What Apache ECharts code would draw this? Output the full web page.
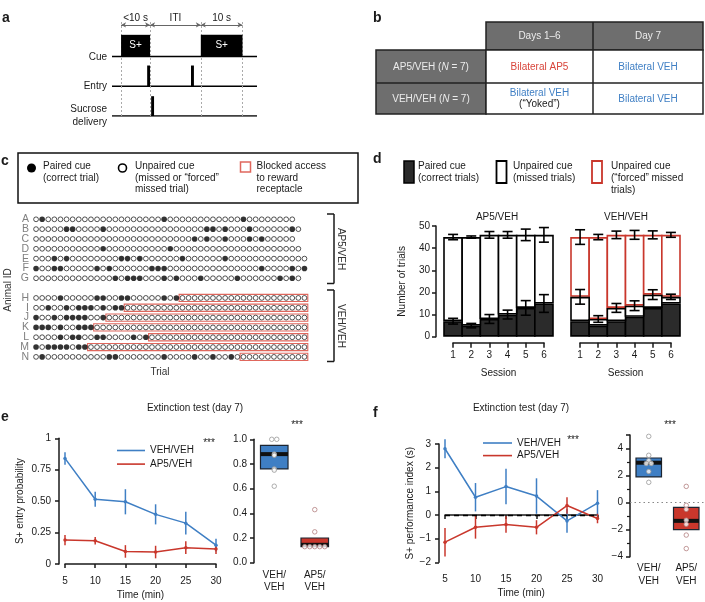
<!DOCTYPE html>
<html>
<head>
<meta charset="utf-8">
<script src="https://cdn.jsdelivr.net/npm/echarts@6.0.0/dist/echarts.min.js"></script>
<style>
  html, body { margin: 0; padding: 0; background: #fff; }
  #main { width: 705px; height: 602px; }
</style>
</head>
<body>
<div id="main"></div>
<script>
// ---- panel a: trial schematic (s) ----
var cueOn = [[0, 8], [22, 33.5]];
var entryOn = [[7.2, 8], [19.3, 20.1]];
var sucroseOn = [[8.3, 9.1]];
var epochEdges = [0, 8, 22, 33.5];
var epochNames = ['<10 s', 'ITI', '10 s'];

// ---- panel c: per-animal trial record ----
var animals = ['A', 'B', 'C', 'D', 'E', 'F', 'G', '', 'H', 'I', 'J', 'K', 'L', 'M', 'N'];
var trialCount = [43, 44, 43, 44, 45, 46, 44, 0, 45, 45, 45, 45, 45, 45, 45];
var pairedTrials = [
  [1, 21, 34],
  [5, 6, 11, 28, 29, 31, 35, 42],
  [26, 28, 31, 35, 37],
  [11, 22],
  [3, 5, 14, 15, 17, 24, 31],
  [0, 3, 4, 10, 12, 19, 20, 21, 37, 42, 44, 45],
  [13, 15, 16, 17, 21, 23, 27, 33, 40, 42],
  [],
  [4, 10, 11, 14, 15, 21, 23],
  [2, 5, 7, 8, 9, 11, 13, 14],
  [0, 3, 5, 6, 7, 8, 11],
  [0, 1, 2, 4, 7, 8, 9],
  [4, 6, 7, 10, 11, 16, 18],
  [0, 2, 3, 4, 5, 7, 8],
  [1, 12, 13, 21, 26, 29, 32]
];
var blockedFrom = [null, null, null, null, null, null, null, null, 24, 15, 12, 10, 19, 9, 34];

// ---- panel d: trials per session ----
var sessions = ['1', '2', '3', '4', '5', '6'];
var ap5Paired = [7, 5, 8, 10, 13, 15];
var ap5PairedErr = [1.3, 1, 2, 2, 3.3, 4];
var ap5Total = [45, 45, 46, 46, 46, 46];
var ap5TotalErr = [1.2, 0.5, 1.5, 1.5, 2.6, 3.3];
var vehPaired = [7, 5, 7, 9, 13, 15];
var vehMissedTop = [18, 8, 13, 14, 19, 18];
var vehMissedErr = [3.3, 1.5, 2, 2.2, 2.2, 1.2];
var vehTotal = [45, 45, 46, 46, 46, 46];
var vehTotalErr = [3.3, 1.2, 1.7, 2, 1.8, 1.1];

// ---- panel e: entry probability ----
var times = [5, 10, 15, 20, 25, 30];
var eVeh = [0.84, 0.515, 0.495, 0.395, 0.325, 0.15];
var eVehErr = [0.05, 0.06, 0.1, 0.08, 0.09, 0.05];
var eAp5 = [0.19, 0.185, 0.1, 0.095, 0.13, 0.12];
var eAp5Err = [0.04, 0.03, 0.05, 0.05, 0.05, 0.04];
var eBoxVeh = [0.76, 0.88, 0.95];
var eBoxAp5 = [0.13, 0.145, 0.2];
var ePtsVeh = [1.0, 1.0, 0.88, 0.87, 0.76, 0.75, 0.62];
var ePtsAp5 = [0.43, 0.25, 0.13, 0.13, 0.13, 0.13, 0.13];

// ---- panel f: performance index ----
var fVeh = [2.8, 0.75, 1.2, 0.8, -0.25, 0.5];
var fVehErr = [0.4, 0.6, 0.75, 0.75, 0.5, 0.55];
var fAp5 = [-1.15, -0.52, -0.4, -0.52, 0.4, -0.15];
var fAp5Err = [0.6, 0.48, 0.35, 0.3, 0.35, 0.2];
var fBoxVeh = [1.9, 2.95, 3.3];
var fBoxAp5 = [-2.0, -1.35, -0.35];
var fPtsVeh = [4.9, 3.5, 3.1, 2.9, 2.9, 2.3, 1.5];
var fPtsAp5 = [1.2, -0.2, -0.5, -1.3, -1.6, -2.4, -3.4];

var FONT = "'Liberation Sans', Arial, sans-serif";
var FS = 10;
var INK = '#1a1a1a';
var BLUE = '#3f7fc4';
var RED = '#c9372c';
var BLOCK = '#e0675d';

var chart = echarts.init(document.getElementById('main'));

function txt(x, y, s, o) {
  o = o || {};
  var align = o.align || 'left';
  return {
    type: 'text', x: x, y: y, rotation: o.rotation || 0, z: 50,
    style: {
      text: s, fill: o.color || INK, fontSize: o.size || FS, fontFamily: FONT,
      fontWeight: o.weight || 'normal', lineHeight: o.lh || 12,
      align: align, textAlign: align,
      verticalAlign: o.va || 'middle', textVerticalAlign: o.va || 'middle',
      rich: o.rich
    }
  };
}
function rect(x, y, w, h, fill, stroke, lw) {
  return { type: 'rect', shape: { x: x, y: y, width: w, height: h }, z: 40,
    style: { fill: fill, stroke: stroke, lineWidth: lw || 0 } };
}
function seg(x1, y1, x2, y2, color, lw) {
  return { type: 'line', shape: { x1: x1, y1: y1, x2: x2, y2: y2 }, z: 40,
    style: { stroke: color || INK, lineWidth: lw || 1.5 } };
}

// error bar renderer
function errBars(color, cap, lw) {
  return function (params, api) {
    var x = api.value(0);
    var a = api.coord([x, api.value(1)]);
    var b = api.coord([x, api.value(2)]);
    var st = { stroke: color, lineWidth: lw };
    var kids = [{ type: 'line', shape: { x1: a[0], y1: a[1], x2: b[0], y2: b[1] }, style: st }];
    if (cap) {
      kids.push({ type: 'line', shape: { x1: a[0] - cap, y1: a[1], x2: a[0] + cap, y2: a[1] }, style: st });
      kids.push({ type: 'line', shape: { x1: b[0] - cap, y1: b[1], x2: b[0] + cap, y2: b[1] }, style: st });
    }
    return { type: 'group', children: kids };
  };
}
function errData(xs, ys, es) {
  return ys.map(function (v, i) { return [xs[i], v - es[i], v + es[i]]; });
}

// box renderer (no whiskers, thick median band)
function renderBox(params, api) {
  var i = api.value(0);
  var bw = api.size([1, 0])[0] * 0.68;
  var hi = api.coord([i, api.value(3)]);
  var lo = api.coord([i, api.value(1)]);
  var md = api.coord([i, api.value(2)]);
  var fill = i === 0 ? BLUE : RED;
  return { type: 'group', children: [
    { type: 'rect', shape: { x: hi[0] - bw / 2, y: hi[1], width: bw, height: lo[1] - hi[1] },
      style: { fill: fill, stroke: '#1c2430', lineWidth: 1.2 } },
    { type: 'rect', shape: { x: hi[0] - bw / 2, y: md[1] - 2, width: bw, height: 4 },
      style: { fill: '#111' } }
  ] };
}
function boxPoints(group, vals, color) {
  return vals.map(function (v, k) {
    var same = vals.filter(function (w) { return w === v; }).length;
    var rank = vals.slice(0, k).filter(function (w) { return w === v; }).length;
    return { value: [group, v], symbolOffset: [(rank - (same - 1) / 2) * 5, 0],
      itemStyle: { color: '#fff', borderColor: color, borderWidth: 1 } };
  });
}

// panel a pulses
function pulseData(list, base, top) {
  return list.map(function (p) { return [p[0], p[1], base, top]; });
}
function renderPulse(label) {
  return function (params, api) {
    var a = api.coord([api.value(0), api.value(3)]);
    var b = api.coord([api.value(1), api.value(2)]);
    var kids = [{ type: 'rect', shape: { x: a[0], y: a[1], width: b[0] - a[0], height: b[1] - a[1] },
      style: { fill: '#000' } }];
    if (label) {
      kids.push({ type: 'text', x: (a[0] + b[0]) / 2, y: (a[1] + b[1]) / 2,
        style: { text: label, fill: '#fff', fontSize: FS, fontFamily: FONT,
          align: 'center', textAlign: 'center', verticalAlign: 'middle', textVerticalAlign: 'middle' } });
    }
    return { type: 'group', children: kids };
  };
}

// panel c dots
var filledDots = [], openDots = [], blocks = [];
animals.forEach(function (name, r) {
  for (var t = 0; t < trialCount[r]; t++) {
    (pairedTrials[r].indexOf(t) >= 0 ? filledDots : openDots).push([t, r]);
  }
  if (blockedFrom[r] !== null) blocks.push([blockedFrom[r], r, trialCount[r] - 1]);
});

// panel d stacks; bars overlap by one border width so neighbours share an edge
function minus(a, b) { return a.map(function (v, i) { return v - b[i]; }); }
var idx6 = sessions.map(function (s, i) { return i; });
var BAR_W = 109 / 6 + 1.6;

var axisLbl = { color: INK, fontSize: FS, fontFamily: FONT };
var axLine = { show: true, lineStyle: { color: INK, width: 1.5 } };
var axTick = { show: true, length: 4, lineStyle: { color: INK, width: 1.5 } };
var hidden = { show: false };
function signFmt(v) { return v < 0 ? '\u2212' + Math.abs(v) : String(v); }

var graphics = [
  // panel letters
  txt(2, 12, 'a', { size: 14, weight: 'bold', va: 'alphabetic' }),
  txt(373, 12, 'b', { size: 14, weight: 'bold', va: 'alphabetic' }),
  txt(1, 155, 'c', { size: 14, weight: 'bold', va: 'alphabetic' }),
  txt(373, 153, 'd', { size: 14, weight: 'bold', va: 'alphabetic' }),
  txt(1, 411, 'e', { size: 14, weight: 'bold', va: 'alphabetic' }),
  txt(373, 407, 'f', { size: 14, weight: 'bold', va: 'alphabetic' }),
  // panel a row labels
  txt(107, 57, 'Cue', { align: 'right' }),
  txt(107, 86, 'Entry', { align: 'right' }),
  txt(107, 115.5, 'Sucrose\ndelivery', { align: 'right', lh: 13 }),
  // panel b table
  rect(486, 22, 217, 28, '#6e6e6e', '#222', 1.5),
  rect(376, 50, 110, 64, '#6e6e6e', '#222', 1.5),
  rect(486, 50, 217, 64, '#fff', '#222', 1.5),
  seg(593, 22, 593, 114, '#222', 1.5),
  seg(376, 83, 703, 83, '#222', 1.5),
  txt(539.5, 36, 'Days 1\u20136', { align: 'center', color: '#ececec' }),
  txt(648, 36, 'Day 7', { align: 'center', color: '#ececec' }),
  txt(431, 67, 'AP5/VEH ({i|N} = 7)', { align: 'center', color: '#ececec',
    rich: { i: { fontStyle: 'italic', fontSize: FS, fontFamily: FONT, fill: '#ececec' } } }),
  txt(431, 99, 'VEH/VEH ({i|N} = 7)', { align: 'center', color: '#ececec',
    rich: { i: { fontStyle: 'italic', fontSize: FS, fontFamily: FONT, fill: '#ececec' } } }),
  txt(539.5, 67, 'Bilateral AP5', { align: 'center', color: '#d8453b' }),
  txt(648, 67, 'Bilateral VEH', { align: 'center', color: '#3f7fc4' }),
  txt(539.5, 93, 'Bilateral VEH', { align: 'center', color: '#3f7fc4' }),
  txt(539.5, 104.5, '(\u201cYoked\u201d)', { align: 'center' }),
  txt(648, 99, 'Bilateral VEH', { align: 'center', color: '#3f7fc4' }),
  // panel c legend
  rect(18, 153, 340, 50, 'none', '#111', 1.5),
  { type: 'circle', shape: { cx: 31.5, cy: 168, r: 4.5 }, z: 41, style: { fill: '#000' } },
  txt(43, 172, 'Paired cue\n(correct trial)', { lh: 11.7 }),
  { type: 'circle', shape: { cx: 122.5, cy: 168, r: 4 }, z: 41, style: { fill: '#fff', stroke: '#000', lineWidth: 1.6 } },
  txt(135, 178, 'Unpaired cue\n(missed or \u201cforced\u201d\nmissed trial)', { lh: 11.7 }),
  rect(240.5, 162, 10, 10, '#fff', BLOCK, 1.5),
  txt(256.5, 178, 'Blocked access\nto reward\nreceptacle', { lh: 11.7 }),
  // panel c brackets and titles
  seg(327, 214, 334, 214), seg(334, 214, 334, 283.5), seg(327, 283.5, 334, 283.5),
  seg(327, 290, 334, 290), seg(334, 290, 334, 361.5), seg(327, 361.5, 334, 361.5),
  txt(341, 249, 'AP5/VEH', { align: 'center', rotation: -Math.PI / 2, color: '#333' }),
  txt(341, 326, 'VEH/VEH', { align: 'center', rotation: -Math.PI / 2, color: '#333' }),
  txt(8, 290, 'Animal ID', { align: 'center', rotation: Math.PI / 2, color: '#333' }),
  txt(160, 372, 'Trial', { align: 'center', color: '#333' }),
  // panel d legend and titles
  rect(404, 161, 10, 22, '#2a2a2a', '#000', 1.5),
  txt(418, 172, 'Paired cue\n(correct trials)', { lh: 12 }),
  rect(496.5, 161, 10, 22, '#fff', '#000', 1.8),
  txt(513, 172, 'Unpaired cue\n(missed trials)', { lh: 12 }),
  rect(592, 161, 10, 22, '#fff', RED, 1.8),
  txt(611, 178, 'Unpaired cue\n(\u201cforced\u201d missed\ntrials)', { lh: 12 }),
  txt(497, 217, 'AP5/VEH', { align: 'center' }),
  txt(626, 217, 'VEH/VEH', { align: 'center' }),
  // panel e, f titles and stars
  txt(195, 408, 'Extinction test (day 7)', { align: 'center' }),
  txt(521, 408, 'Extinction test (day 7)', { align: 'center' }),
  txt(209, 443, '***', { align: 'center' }),
  txt(297, 425, '***', { align: 'center' }),
  txt(573, 440, '***', { align: 'center' }),
  txt(670, 425, '***', { align: 'center' })
];

var option = {
  animation: false,
  textStyle: { fontFamily: FONT },
  graphic: { elements: graphics },
  legend: [
    { data: ['VEH/VEH', 'AP5/VEH'], left: 112, top: 440.5, orient: 'vertical', icon: 'rect',
      itemWidth: 28, itemHeight: 1.6, itemGap: 3.6, selectedMode: false,
      textStyle: { fontSize: FS, color: INK, fontFamily: FONT } },
    { data: ['VEH/VEH', 'AP5/VEH'], left: 478, top: 433, orient: 'vertical', icon: 'rect',
      itemWidth: 29, itemHeight: 1.6, itemGap: 2.6, selectedMode: false,
      textStyle: { fontSize: FS, color: INK, fontFamily: FONT } }
  ],
  grid: [
    { left: 112, top: 17, width: 145, height: 99 },
    { left: 33, top: 214.4, width: 274.5, height: 147.4 },
    { left: 444, top: 226, width: 109, height: 110.7 },
    { left: 571, top: 226, width: 109, height: 110.7 },
    { left: 453, top: 341.7, width: 91, height: 1 },
    { left: 580, top: 341.7, width: 91, height: 1 },
    { left: 65, top: 438.3, width: 151, height: 125.7 },
    { left: 254, top: 439.3, width: 81, height: 123.4 },
    { left: 445, top: 444, width: 152.5, height: 118.3 },
    { left: 630, top: 435, width: 75, height: 121.7 }
  ],
  xAxis: [
    { gridIndex: 0, type: 'value', min: -2.5, max: 37.5, show: false },
    { gridIndex: 1, type: 'value', min: -0.5, max: 44.5, show: false },
    { gridIndex: 2, type: 'category', data: sessions, show: false },
    { gridIndex: 3, type: 'category', data: sessions, show: false },
    { gridIndex: 4, type: 'value', min: 1, max: 6, interval: 1, axisLine: axLine, axisTick: { show: true, length: 5, lineStyle: { color: INK, width: 1.5 } },
      axisLabel: Object.assign({ margin: 8 }, axisLbl), splitLine: hidden,
      name: 'Session', nameLocation: 'middle', nameGap: 26, nameTextStyle: axisLbl },
    { gridIndex: 5, type: 'value', min: 1, max: 6, interval: 1, axisLine: axLine, axisTick: { show: true, length: 5, lineStyle: { color: INK, width: 1.5 } },
      axisLabel: Object.assign({ margin: 8 }, axisLbl), splitLine: hidden,
      name: 'Session', nameLocation: 'middle', nameGap: 26, nameTextStyle: axisLbl },
    { gridIndex: 6, type: 'value', min: 5, max: 30, interval: 5, offset: 4, axisLine: axLine, axisTick: axTick,
      axisLabel: Object.assign({ margin: 8 }, axisLbl), splitLine: hidden,
      name: 'Time (min)', nameLocation: 'middle', nameGap: 22, nameTextStyle: axisLbl },
    { gridIndex: 7, type: 'category', data: ['VEH/\nVEH', 'AP5/\nVEH'], axisLine: hidden, axisTick: hidden,
      axisLabel: Object.assign({ margin: 7, lineHeight: 12 }, axisLbl) },
    { gridIndex: 8, type: 'value', min: 5, max: 30, interval: 5, offset: 4, axisLine: axLine, axisTick: axTick,
      axisLabel: Object.assign({ margin: 8 }, axisLbl), splitLine: hidden,
      name: 'Time (min)', nameLocation: 'middle', nameGap: 22, nameTextStyle: axisLbl },
    { gridIndex: 9, type: 'category', data: ['VEH/\nVEH', 'AP5/\nVEH'], axisLine: hidden, axisTick: hidden,
      axisLabel: Object.assign({ margin: 5, lineHeight: 13 }, axisLbl) }
  ],
  yAxis: [
    { gridIndex: 0, type: 'value', min: 0, max: 10, show: false },
    { gridIndex: 1, type: 'category', data: animals, inverse: true, axisLine: hidden, axisTick: hidden,
      axisLabel: { color: '#808080', fontSize: 10.5, fontFamily: FONT, margin: 4, interval: 0 } },
    { gridIndex: 2, type: 'value', min: 0, max: 50, interval: 10, offset: 8, axisLine: axLine, axisTick: axTick,
      axisLabel: Object.assign({ margin: 6 }, axisLbl), splitLine: hidden,
      name: 'Number of trials', nameLocation: 'middle', nameGap: 29, nameTextStyle: axisLbl },
    { gridIndex: 3, type: 'value', min: 0, max: 50, show: false },
    { gridIndex: 4, type: 'value', show: false },
    { gridIndex: 5, type: 'value', show: false },
    { gridIndex: 6, type: 'value', min: 0, max: 1, interval: 0.25, offset: 6, axisLine: axLine, axisTick: axTick,
      axisLabel: Object.assign({ margin: 8, formatter: function (v) { return v === 0 || v === 1 ? String(v) : v.toFixed(2); } }, axisLbl),
      splitLine: hidden, name: 'S+ entry probability', nameLocation: 'middle', nameGap: 34, nameTextStyle: axisLbl },
    { gridIndex: 7, type: 'value', min: 0, max: 1, interval: 0.2, axisLine: axLine, axisTick: axTick,
      axisLabel: Object.assign({ margin: 7, formatter: function (v) { return v.toFixed(1); } }, axisLbl), splitLine: hidden },
    { gridIndex: 8, type: 'value', min: -2, max: 3, interval: 1, offset: 6, axisLine: axLine, axisTick: axTick,
      axisLabel: Object.assign({ margin: 8, formatter: signFmt }, axisLbl), splitLine: hidden,
      name: 'S+ performance index (s)', nameLocation: 'middle', nameGap: 24, nameTextStyle: axisLbl },
    { gridIndex: 9, type: 'value', min: -4, max: 5, interval: 2, axisLine: axLine, axisTick: axTick,
      minorTick: { show: true, splitNumber: 2, length: 3, lineStyle: { color: INK, width: 1.2 } },
      axisLabel: Object.assign({ margin: 7, formatter: signFmt, showMaxLabel: false }, axisLbl), splitLine: hidden }
  ],
  series: [
    // ---- panel a ----
    { type: 'line', xAxisIndex: 0, yAxisIndex: 0, data: [[-2.5, 6], [37.5, 6]], symbol: 'none',
      lineStyle: { color: '#000', width: 1.5 } },
    { type: 'line', xAxisIndex: 0, yAxisIndex: 0, data: [[-2.5, 3], [37.5, 3]], symbol: 'none',
      lineStyle: { color: '#000', width: 1.5 },
      markLine: { silent: true, symbol: ['arrow', 'arrow'], symbolSize: [4, 5],
        lineStyle: { color: '#666', width: 1, type: 'solid' },
        label: { show: true, formatter: '{b}', position: 'insideMiddleTop', distance: 2, color: INK, fontSize: FS, fontFamily: FONT },
        data: epochNames.map(function (n, i) {
          return [{ name: n, coord: [epochEdges[i], 9.2] }, { coord: [epochEdges[i + 1], 9.2] }];
        }) } },
    { type: 'line', xAxisIndex: 0, yAxisIndex: 0, data: [[-2.5, 0], [37.5, 0]], symbol: 'none',
      lineStyle: { color: '#000', width: 1.5 },
      markLine: { silent: true, symbol: 'none', label: { show: false },
        lineStyle: { color: '#aaa', width: 1, type: [2, 2] },
        data: epochEdges.map(function (e) { return [{ coord: [e, 0] }, { coord: [e, 9.55] }]; }) } },
    { type: 'custom', xAxisIndex: 0, yAxisIndex: 0, renderItem: renderPulse('S+'), data: pulseData(cueOn, 6, 8.2), z: 5 },
    { type: 'custom', xAxisIndex: 0, yAxisIndex: 0, renderItem: renderPulse(''), data: pulseData(entryOn, 3, 5.1), z: 5 },
    { type: 'custom', xAxisIndex: 0, yAxisIndex: 0, renderItem: renderPulse(''), data: pulseData(sucroseOn, 0, 2.0), z: 5 },

    // ---- panel c ----
    { type: 'custom', xAxisIndex: 1, yAxisIndex: 1, data: blocks, encode: { x: [0, 2], y: 1 }, z: 1,
      renderItem: function (params, api) {
        var a = api.coord([api.value(0) - 0.55, api.value(1)]);
        var b = api.coord([api.value(2) + 0.55, api.value(1)]);
        return { type: 'rect', shape: { x: a[0], y: a[1] - 3.6, width: b[0] - a[0], height: 7.2 },
          style: { fill: '#fff', stroke: BLOCK, lineWidth: 1.1 } };
      } },
    { type: 'scatter', xAxisIndex: 1, yAxisIndex: 1, data: openDots, symbol: 'circle', symbolSize: 4.8, z: 3,
      itemStyle: { color: '#fff', borderColor: '#111', borderWidth: 0.9 } },
    { type: 'scatter', xAxisIndex: 1, yAxisIndex: 1, data: filledDots, symbol: 'circle', symbolSize: 5.6, z: 4,
      itemStyle: { color: '#000' } },

    // ---- panel d ----
    { type: 'bar', xAxisIndex: 2, yAxisIndex: 2, stack: 'ap5', data: ap5Paired, barWidth: BAR_W,
      itemStyle: { color: '#2b2b2b', borderColor: '#000', borderWidth: 1.6 } },
    { type: 'bar', xAxisIndex: 2, yAxisIndex: 2, stack: 'ap5', data: minus(ap5Total, ap5Paired), barWidth: BAR_W,
      itemStyle: { color: '#fff', borderColor: '#000', borderWidth: 1.6 } },
    { type: 'custom', xAxisIndex: 2, yAxisIndex: 2, renderItem: errBars('#000', 5, 1.6), data: errData(idx6, ap5Paired, ap5PairedErr), z: 6 },
    { type: 'custom', xAxisIndex: 2, yAxisIndex: 2, renderItem: errBars('#000', 5, 1.6), data: errData(idx6, ap5Total, ap5TotalErr), z: 6 },
    { type: 'bar', xAxisIndex: 3, yAxisIndex: 3, stack: 'veh', data: vehPaired, barWidth: BAR_W,
      itemStyle: { color: '#2b2b2b', borderColor: '#000', borderWidth: 1.6 } },
    { type: 'bar', xAxisIndex: 3, yAxisIndex: 3, stack: 'veh', data: minus(vehMissedTop, vehPaired), barWidth: BAR_W,
      itemStyle: { color: '#fff', borderColor: '#000', borderWidth: 1.6 } },
    { type: 'bar', xAxisIndex: 3, yAxisIndex: 3, stack: 'veh', data: minus(vehTotal, vehMissedTop), barWidth: BAR_W,
      itemStyle: { color: '#fff', borderColor: RED, borderWidth: 1.6 }, z: 1 },
    { type: 'custom', xAxisIndex: 3, yAxisIndex: 3, renderItem: errBars('#000', 5, 1.6), data: errData(idx6, vehMissedTop, vehMissedErr), z: 6 },
    { type: 'custom', xAxisIndex: 3, yAxisIndex: 3, renderItem: errBars('#000', 5, 1.6), data: errData(idx6, vehTotal, vehTotalErr), z: 6 },

    // ---- panel e ----
    { name: 'VEH/VEH', type: 'line', xAxisIndex: 6, yAxisIndex: 6, symbol: 'circle', symbolSize: 3.5,
      data: times.map(function (t, i) { return [t, eVeh[i]]; }), color: BLUE, lineStyle: { width: 1.5 }, z: 4 },
    { name: 'AP5/VEH', type: 'line', xAxisIndex: 6, yAxisIndex: 6, symbol: 'circle', symbolSize: 3.5,
      data: times.map(function (t, i) { return [t, eAp5[i]]; }), color: RED, lineStyle: { width: 1.5 }, z: 4 },
    { type: 'custom', xAxisIndex: 6, yAxisIndex: 6, renderItem: errBars(BLUE, 0, 1.5), data: errData(times, eVeh, eVehErr) },
    { type: 'custom', xAxisIndex: 6, yAxisIndex: 6, renderItem: errBars(RED, 0, 1.5), data: errData(times, eAp5, eAp5Err) },
    { type: 'custom', xAxisIndex: 7, yAxisIndex: 7, renderItem: renderBox,
      data: [[0].concat(eBoxVeh), [1].concat(eBoxAp5)] },
    { type: 'scatter', xAxisIndex: 7, yAxisIndex: 7, symbol: 'circle', symbolSize: 4.5, z: 5,
      data: boxPoints(0, ePtsVeh, '#9a9a9a').concat(boxPoints(1, ePtsAp5, '#b38080')) },

    // ---- panel f ----
    { name: 'VEH/VEH', type: 'line', xAxisIndex: 8, yAxisIndex: 8, symbol: 'circle', symbolSize: 3.5,
      data: times.map(function (t, i) { return [t, fVeh[i]]; }), color: BLUE, lineStyle: { width: 1.5 }, z: 4,
      markLine: { silent: true, symbol: 'none', label: { show: false },
        lineStyle: { color: '#000', width: 1.3, type: [5, 4] }, data: [{ yAxis: 0 }] } },
    { name: 'AP5/VEH', type: 'line', xAxisIndex: 8, yAxisIndex: 8, symbol: 'circle', symbolSize: 3.5,
      data: times.map(function (t, i) { return [t, fAp5[i]]; }), color: RED, lineStyle: { width: 1.5 }, z: 4 },
    { type: 'custom', xAxisIndex: 8, yAxisIndex: 8, renderItem: errBars(BLUE, 0, 1.5), data: errData(times, fVeh, fVehErr) },
    { type: 'custom', xAxisIndex: 8, yAxisIndex: 8, renderItem: errBars(RED, 0, 1.5), data: errData(times, fAp5, fAp5Err) },
    { type: 'custom', xAxisIndex: 9, yAxisIndex: 9, renderItem: renderBox,
      data: [[0].concat(fBoxVeh), [1].concat(fBoxAp5)] },
    { type: 'scatter', xAxisIndex: 9, yAxisIndex: 9, symbol: 'circle', symbolSize: 4.5, z: 5,
      data: boxPoints(0, fPtsVeh, '#9a9a9a').concat(boxPoints(1, fPtsAp5, '#b38080')),
      markLine: { silent: true, symbol: 'none', label: { show: false }, z: 1,
        lineStyle: { color: '#888', width: 1.2, type: [1.5, 3] }, data: [{ yAxis: 0 }] } }
  ]
};

chart.setOption(option);
</script>
</body>
</html>
